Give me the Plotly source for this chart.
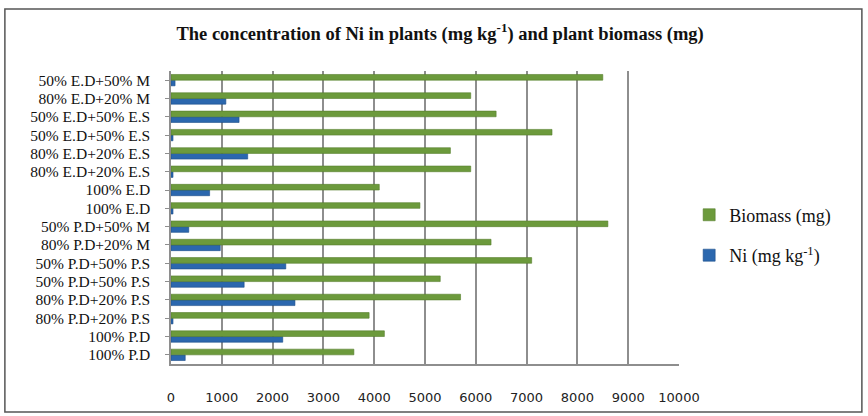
import plotly.graph_objects as go

# DATA
categories = [
    '100% P.D', '100% P.D ', '80% P.D+20% P.S', '80% P.D+20% P.S ',
    '50% P.D+50% P.S', '50% P.D+50% P.S ', '80% P.D+20% M', '50% P.D+50% M',
    '100% E.D', '100% E.D ', '80% E.D+20% E.S', '80% E.D+20% E.S ',
    '50% E.D+50% E.S', '50% E.D+50% E.S ', '80% E.D+20% M', '50% E.D+50% M',
]
biomass = [3600, 4200, 3900, 5700, 5300, 7100, 6300, 8600,
           4900, 4100, 5900, 5500, 7500, 6400, 5900, 8500]
ni = [280, 2200, 40, 2440, 1440, 2260, 970, 350,
      40, 760, 40, 1510, 40, 1340, 1080, 80]
x_ticks = [0, 1000, 2000, 3000, 4000, 5000, 6000, 7000, 8000, 9000, 10000]
x_labels = ['0', '1000', '2000', '3000', '4000', '5000', '6000', '7000', '8000', '9000', '10000']

GREEN = '#6c9a3c'
GREEN_EDGE = '#557d2c'
BLUE = '#2b67ae'
BLUE_EDGE = '#1c4e8a'
GRID = '#8e8e8e'
SERIF = 'Liberation Serif, Times New Roman, serif'

fig = go.Figure()

fig.add_trace(go.Bar(
    y=categories, x=ni, orientation='h',
    name='Ni (mg kg<sup>-1</sup>)', legendgroup='ni', legendrank=2,
    marker=dict(color=BLUE, line=dict(color=BLUE_EDGE, width=0.6)),
))
fig.add_trace(go.Bar(
    y=categories, x=biomass, orientation='h',
    name='Biomass (mg)', legendgroup='bio', legendrank=1,
    marker=dict(color=GREEN, line=dict(color=GREEN_EDGE, width=0.6)),
))

fig.update_layout(
    width=868, height=416,
    paper_bgcolor='white', plot_bgcolor='white',
    margin=dict(l=171, r=189, t=71, b=52, autoexpand=False),
    barmode='group', bargap=0.38, bargroupgap=0,
    title=dict(
        text='<b>The concentration of Ni in plants (mg kg<sup>-1</sup>) and plant biomass (mg)</b>',
        x=0.507, xanchor='center', y=0.92, yanchor='middle',
        font=dict(family=SERIF, size=18.5, color='#111'),
    ),
    legend=dict(
        x=1.02, xanchor='left', y=0.44, yanchor='middle',
        traceorder='grouped', tracegroupgap=14,
        font=dict(family=SERIF, size=18, color='#111'),
        itemwidth=30,
    ),
    xaxis=dict(
        range=[0, 10000], tickvals=x_ticks, ticktext=x_labels,
        showgrid=True, gridcolor=GRID, gridwidth=1.5,
        showline=True, linecolor=GRID, linewidth=1.5,
        zeroline=False, ticks='', ticklabelstandoff=21, automargin=False,
        tickfont=dict(family='DejaVu Sans, Verdana, sans-serif', size=13, color='#222'),
    ),
    yaxis=dict(
        categoryorder='array', categoryarray=categories,
        tickmode='array', tickvals=categories, ticktext=[c.strip() for c in categories],
        showline=True, linecolor=GRID, linewidth=1.5,
        showgrid=False, ticks='outside', ticklen=4, tickcolor=GRID,
        ticklabelstandoff=12, automargin=False,
        tickfont=dict(family=SERIF, size=15.5, color='#111'),
    ),
    shapes=[dict(
        type='rect', xref='paper', yref='paper',
        x0=-0.327, x1=1.360, y0=-0.164, y1=1.212,
        line=dict(color='#555', width=1.5), fillcolor='rgba(0,0,0,0)', layer='below',
    )],
)

# drop the default page margin so the figure sits at the window's corner
fig.write_html('out.html', config={'displayModeBar': False},
               post_script="document.body.style.margin='0';")
